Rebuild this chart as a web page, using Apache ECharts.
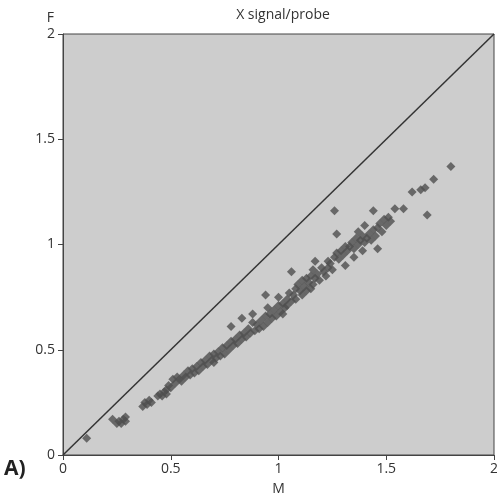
<!DOCTYPE html>
<html><head><meta charset="utf-8">
<script src="https://cdn.jsdelivr.net/npm/echarts@6/dist/echarts.min.js"></script>
<style>html,body{margin:0;padding:0;background:#fff}#c{width:497px;height:502px}</style>
</head><body><div id="c"></div>
<script>
const titleText = "X signal/probe";
const xName = "M";
const yName = "F";
const panelLabel = "A)";
const axisMin = 0, axisMax = 2, axisStep = 0.5;
const diagonal = [[0,0],[2,2]];
const mValues = [0.11,0.23,0.25,0.26,0.27,0.28,0.29,0.29,0.37,0.38,0.39,0.40,0.41,0.44,0.45,0.46,0.47,0.48,0.48,0.49,0.50,
0.51,0.52,0.53,0.54,0.55,0.56,0.57,0.58,0.59,0.60,0.61,0.62,0.63,0.64,0.65,0.66,0.67,0.68,0.69,0.70,0.70,0.71,0.72,0.73,0.74,0.75,0.76,0.77,0.78,0.78,0.79,0.80,0.81,0.82,0.83,0.83,0.84,0.85,0.86,0.87,0.88,0.88,0.89,0.90,0.91,0.92,0.93,0.94,0.94,0.95,0.95,0.96,0.97,0.98,0.99,1.00,1.00,1.01,1.02,1.02,1.03,1.04,1.04,1.05,1.06,1.06,1.07,1.08,1.08,1.09,1.10,1.11,1.11,1.12,1.13,1.13,1.14,1.15,1.15,1.16,1.16,1.17,1.17,1.18,1.19,1.20,1.21,1.22,1.23,1.23,1.24,1.25,1.26,1.26,1.27,1.27,1.28,1.29,1.30,1.31,1.31,1.32,1.33,1.34,1.35,1.35,1.36,1.37,1.37,1.38,1.39,1.39,1.40,1.40,1.41,1.42,1.43,1.44,1.44,1.45,1.46,1.46,1.47,1.48,1.49,1.50,1.51,1.52,1.54,1.58,1.62,1.66,1.68,1.69,1.72,1.80];
const fValues = [0.08,0.17,0.15,0.16,0.15,0.17,0.16,0.18,0.23,0.25,0.24,0.26,0.25,0.28,0.29,0.28,0.30,0.31,0.29,0.33,0.32,
0.36,0.34,0.37,0.36,0.35,0.38,0.37,0.40,0.38,0.41,0.39,0.42,0.40,0.44,0.42,0.45,0.43,0.47,0.45,0.48,0.44,0.46,0.49,0.47,0.51,0.48,0.52,0.50,0.54,0.61,0.52,0.55,0.53,0.57,0.65,0.55,0.58,0.56,0.60,0.58,0.63,0.67,0.59,0.62,0.60,0.64,0.61,0.66,0.76,0.70,0.63,0.67,0.65,0.69,0.66,0.75,0.71,0.68,0.72,0.67,0.70,0.74,0.71,0.77,0.73,0.87,0.76,0.79,0.74,0.81,0.78,0.76,0.83,0.80,0.84,0.78,0.82,0.79,0.85,0.88,0.81,0.92,0.84,0.86,0.83,0.89,0.87,0.85,0.89,0.92,0.91,0.88,1.16,0.94,0.96,1.05,0.93,0.97,0.95,0.90,0.99,0.97,0.99,1.01,0.94,0.98,1.03,1.06,1.00,1.02,0.97,1.04,1.09,1.01,1.03,1.05,1.02,1.16,1.07,1.04,1.08,0.98,1.10,1.06,1.12,1.09,1.13,1.11,1.17,1.17,1.25,1.26,1.27,1.14,1.31,1.37];

const pts = mValues.map((m,i)=>[m,fValues[i]]);
const font = "'Open Sans', 'Noto Sans', sans-serif";
const chart = echarts.init(document.getElementById('c'), null, {renderer:'canvas'});
chart.setOption({
  animation:false,
  backgroundColor:'#ffffff',
  title:{text:titleText,left:278,top:3,textAlign:'center',textStyle:{fontFamily:font,fontSize:14,fontWeight:'normal',color:'#333'}},
  grid:{left:63,top:34,right:3,bottom:47,outerBoundsMode:'none',containLabel:false,show:true,backgroundColor:'#cdcdcd',borderColor:'#444',borderWidth:1},
  xAxis:{type:'value',min:axisMin,max:axisMax,interval:axisStep,name:xName,nameLocation:'middle',nameGap:27,
    nameTextStyle:{fontFamily:font,fontSize:14,color:'#333'},
    axisLine:{show:true,lineStyle:{color:'#444',width:1}},axisTick:{show:true,length:5,lineStyle:{color:'#444'}},
    splitLine:{show:false},axisLabel:{fontFamily:font,fontSize:14,color:'#333',margin:7}},
  yAxis:{type:'value',min:axisMin,max:axisMax,interval:axisStep,name:yName,nameLocation:'end',nameGap:9,
    nameTextStyle:{fontFamily:font,fontSize:14,color:'#333',align:'right',padding:[0,9,0,0]},
    axisLine:{show:true,lineStyle:{color:'#444',width:1}},axisTick:{show:true,length:5,lineStyle:{color:'#444'}},
    splitLine:{show:false},axisLabel:{fontFamily:font,fontSize:14,color:'#333',margin:8}},
  graphic:[{type:'text',left:4,top:459,style:{text:panelLabel,fontFamily:font,fontSize:21,fontWeight:'bold',fill:'#222'}}],
  series:[
    {type:'line',data:diagonal,symbol:'none',lineStyle:{color:'#333',width:1.5},silent:true,z:1},
    {type:'scatter',data:pts,symbol:'diamond',symbolSize:9,itemStyle:{color:'#4f4f4f'},z:2}
  ]
});
</script></body></html>
